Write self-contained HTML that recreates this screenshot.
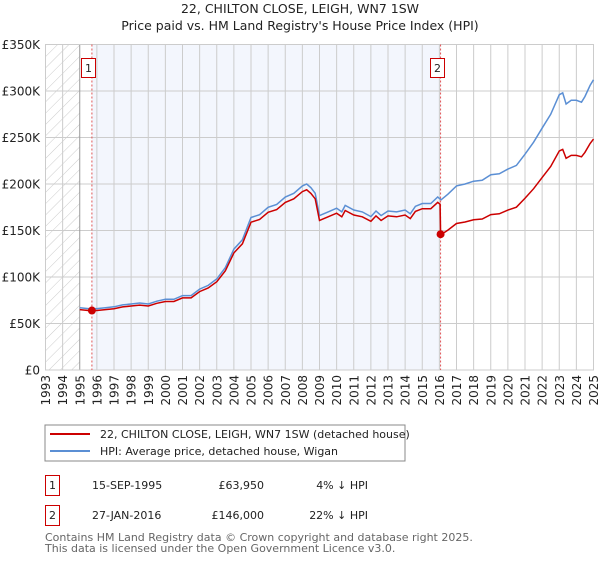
<!DOCTYPE html>
<html><head><meta charset="utf-8"><style>
body{margin:0;background:#fff;width:600px;height:560px;overflow:hidden;font-family:"DejaVu Sans","Liberation Sans",sans-serif}
svg text{font-family:"DejaVu Sans","Liberation Sans",sans-serif}
</style></head><body>
<svg id="c" width="600" height="560" xmlns="http://www.w3.org/2000/svg">
<defs><pattern id="hatch" width="8" height="8" patternUnits="userSpaceOnUse" patternTransform="rotate(45)"><line x1="0" y1="0" x2="0" y2="8" stroke="#ccc" stroke-width="1"/></pattern></defs>
<text x="300" y="13" text-anchor="middle" font-size="12.5" fill="#222">22, CHILTON CLOSE, LEIGH, WN7 1SW</text>
<text x="300" y="30" text-anchor="middle" font-size="12.5" fill="#222">Price paid vs. HM Land Registry's House Price Index (HPI)</text>
<g id="plot"></g>
<rect x="45" y="425" width="360" height="36" fill="#fff" stroke="#888"/>
<line x1="50" y1="434" x2="90" y2="434" stroke="#cc0000" stroke-width="2"/>
<text x="100" y="438" font-size="11" fill="#222">22, CHILTON CLOSE, LEIGH, WN7 1SW (detached house)</text>
<line x1="50" y1="451" x2="90" y2="451" stroke="#5b8fd4" stroke-width="2"/>
<text x="100" y="455" font-size="11" fill="#222">HPI: Average price, detached house, Wigan</text>
<g>
<rect x="45.5" y="475.5" width="14" height="20" fill="#fff" stroke="#cc0000"/>
<text x="52.5" y="489" text-anchor="middle" font-size="11" fill="#222">1</text>
<text x="92" y="489" font-size="11" fill="#222">15-SEP-1995</text>
<text x="264" y="489" text-anchor="end" font-size="11" fill="#222">£63,950</text>
<text x="368" y="489" text-anchor="end" font-size="11" fill="#222">4% ↓ HPI</text>
</g>
<g>
<rect x="45.5" y="505.5" width="14" height="20" fill="#fff" stroke="#cc0000"/>
<text x="52.5" y="519" text-anchor="middle" font-size="11" fill="#222">2</text>
<text x="92" y="519" font-size="11" fill="#222">27-JAN-2016</text>
<text x="264" y="519" text-anchor="end" font-size="11" fill="#222">£146,000</text>
<text x="368" y="519" text-anchor="end" font-size="11" fill="#222">22% ↓ HPI</text>
</g>
<text x="45" y="541" font-size="11" fill="#666">Contains HM Land Registry data © Crown copyright and database right 2025.</text>
<text x="45" y="552" font-size="11" fill="#666">This data is licensed under the Open Government Licence v3.0.</text>
</svg>
<script>
const hpiYears=[1995,1995.5,1996,1996.5,1997,1997.5,1998,1998.5,1999,1999.5,2000,2000.5,2001,2001.5,2002,2002.5,2003,2003.5,2004,2004.5,2005,2005.5,2006,2006.5,2007,2007.5,2008,2008.25,2008.5,2008.75,2009,2009.5,2010,2010.3,2010.5,2011,2011.5,2012,2012.3,2012.6,2013,2013.5,2014,2014.3,2014.6,2015,2015.5,2015.9,2016.1,2016.5,2017,2017.5,2018,2018.5,2019,2019.5,2020,2020.5,2021,2021.5,2022,2022.5,2023,2023.2,2023.4,2023.7,2024,2024.3,2024.5,2024.8,2025];
const hpiValues=[67,66,66,67,68,70,71,72,71,74,76,76,80,80,87,91,98,110,130,140,164,167,175,178,186,190,198,200,196,190,166,170,174,170,177,172,170,165,171,166,171,170,172,168,176,179,179,186,183,189,198,200,203,204,210,211,216,220,232,245,260,275,296,298,286,290,290,288,294,306,312];
const saleYears=[1995.71,2016.07];
const salePrices=[63950,146000];
const yTicks=[0,50,100,150,200,250,300,350];
const yTickLabels=["£0","£50K","£100K","£150K","£200K","£250K","£300K","£350K"];
const xTicks=[1993,1994,1995,1996,1997,1998,1999,2000,2001,2002,2003,2004,2005,2006,2007,2008,2009,2010,2011,2012,2013,2014,2015,2016,2017,2018,2019,2020,2021,2022,2023,2024,2025];

const X0=45.5,X1=593.5,Y0=370,Y1=44.5;
const xs=y=>X0+(y-1993)/(2025-1993)*(X1-X0);
const ys=v=>Y0-v/350*(Y0-Y1);
const NS="http://www.w3.org/2000/svg";
const g=document.getElementById('plot');
function mk(t,a){const e=document.createElementNS(NS,t);for(const k in a)e.setAttribute(k,a[k]);g.appendChild(e);return e;}
function hpiAt(t){for(let i=1;i<hpiYears.length;i++){if(t<=hpiYears[i]){const f=(t-hpiYears[i-1])/(hpiYears[i]-hpiYears[i-1]);return hpiValues[i-1]+f*(hpiValues[i]-hpiValues[i-1]);}}return hpiValues[hpiValues.length-1];}

let e=mk('rect',{x:xs(saleYears[0]),y:Y1,width:xs(saleYears[1])-xs(saleYears[0]),height:Y0-Y1,fill:'#f3f6fd'});


e=mk('rect',{x:X0,y:Y1,width:xs(1995)-X0,height:Y0-Y1,fill:'url(#hatch)'});


yTicks.forEach((v,i)=>{
 let l=mk('line',{x1:X0,x2:X1,y1:ys(v),y2:ys(v),stroke:'#ccc','stroke-width':1});
 
 
 let t=mk('text',{x:40,y:ys(v)+4.5,'text-anchor':'end','font-size':12,fill:'#222'});
 t.textContent=yTickLabels[i];
 
 
});
xTicks.forEach(y=>{
 let l=mk('line',{x1:xs(y),x2:xs(y),y1:Y1,y2:Y0,stroke:y==1995?'#999':'#ccc','stroke-width':1});
 
 
 let t=mk('text',{x:0,y:0,'text-anchor':'end','font-size':12,fill:'#222',transform:`translate(${xs(y)+4.5},375) rotate(-90)`});
 t.textContent=y;
 
 
});
e=mk('rect',{x:X0,y:Y1,width:X1-X0,height:Y0-Y1,fill:'none',stroke:'#ccc'});


saleYears.forEach((s,i)=>{
 let l=mk('line',{x1:xs(s),x2:xs(s),y1:Y1,y2:Y0,stroke:'#e05555','stroke-width':1,'stroke-dasharray':'2,2'});
 
 
});
let d=hpiYears.map((y,i)=>(i?'L':'M')+xs(y).toFixed(1)+','+ys(hpiValues[i]).toFixed(1)).join(' ');
e=mk('path',{d:d,fill:'none',stroke:'#5b8fd4','stroke-width':1.5});


const f1=salePrices[0]/1000/hpiAt(saleYears[0]), f2=salePrices[1]/1000/hpiAt(saleYears[1]);
let pts=[];
hpiYears.forEach((y,i)=>{ if(y<saleYears[1]) pts.push([y,hpiValues[i]*f1]); });
pts.push([saleYears[1]-0.03,hpiAt(saleYears[1]-0.03)*f1]);
pts.push([saleYears[1],salePrices[1]/1000]);
hpiYears.forEach((y,i)=>{ if(y>saleYears[1]) pts.push([y,hpiValues[i]*f2]); });
d=pts.map((p,i)=>(i?'L':'M')+xs(p[0]).toFixed(1)+','+ys(p[1]).toFixed(1)).join(' ');
e=mk('path',{d:d,fill:'none',stroke:'#cc0000','stroke-width':1.5});


saleYears.forEach((s,i)=>{
 let c=mk('circle',{cx:xs(s),cy:ys(salePrices[i]/1000),r:4,fill:'#cc0000'});
 
 
 let r=mk('rect',{x:Math.round(xs(s))-10.5,y:58.5,width:14,height:19,fill:'#fff',stroke:'#cc0000'});
 
 
 let t=mk('text',{x:Math.round(xs(s))-3.5,y:72,'text-anchor':'middle','font-size':11,fill:'#222'});
 t.textContent=String(i+1);
 
 
});
</script>
</body></html>
